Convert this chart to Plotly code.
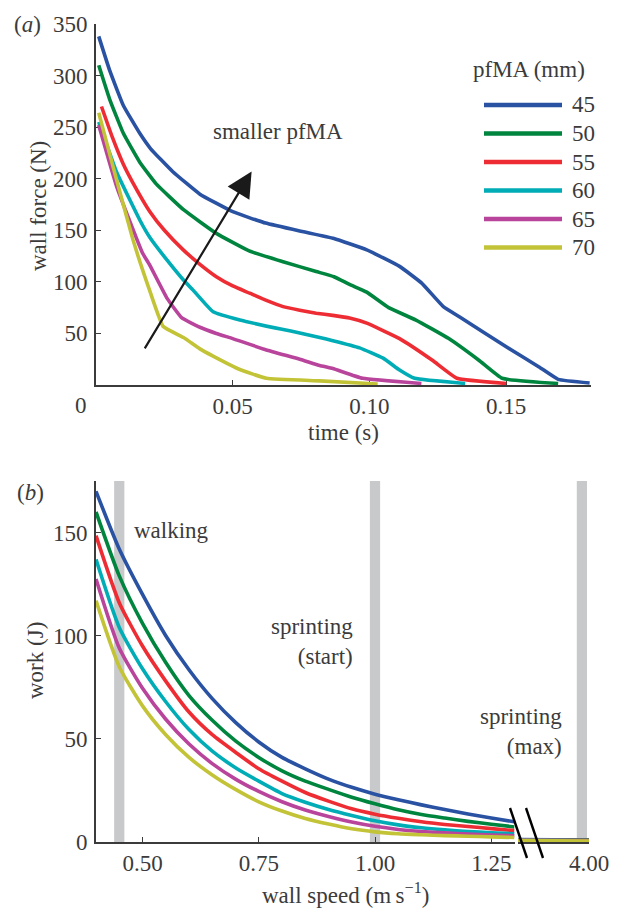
import plotly.graph_objects as go

W, H = 625, 910
OX, OY = 8, 8  # page body margin of the rendered HTML
def px(x):
    return (x - OX) / W
def py(y):
    return 1 - (y - OY) / H

FONT = "Liberation Serif"
TXT = "#3b3b3b"
AX = "#3b3b3b"

pfma_labels = ["45", "50", "55", "60", "65", "70"]
colors = ["#2a52a2", "#00853f", "#ee2c33", "#00adb6", "#b9449b", "#c3c338"]

# ---- panel (a): wall force vs time ----
time_45 = [0.001, 0.005, 0.010, 0.016, 0.020, 0.028, 0.038, 0.050, 0.062, 0.075, 0.087, 0.099, 0.111, 0.119, 0.127, 0.133, 0.150, 0.162, 0.169, 0.1805]
force_45 = [338, 305, 271, 244, 229, 207, 185, 168, 157, 149, 142, 131, 115, 99, 76, 66, 37, 17.5, 5.5, 2]

time_50 = [0.001, 0.005, 0.010, 0.016, 0.022, 0.032, 0.044, 0.056, 0.0684, 0.0805, 0.087, 0.0927, 0.099, 0.107, 0.117, 0.129, 0.140, 0.1485, 0.169]
force_50 = [310, 277, 244, 216, 195, 170, 147, 130, 119.5, 110, 105, 97.5, 90, 75, 63, 45, 24, 6.5, 1.5]

time_55 = [0.002, 0.006, 0.010, 0.0135, 0.0197, 0.025, 0.0319, 0.038, 0.044, 0.050, 0.0562, 0.0623, 0.0684, 0.0745, 0.0805, 0.0866, 0.0927, 0.099, 0.111, 0.123, 0.132, 0.150]
force_55 = [270, 240, 214, 196, 168, 150, 131, 117, 105, 96, 89, 82, 76, 72.5, 69.6, 67.5, 65, 60, 45, 24, 6.5, 1.5]

time_60 = [0.001, 0.0076, 0.016, 0.0197, 0.026, 0.0319, 0.0355, 0.0428, 0.0526, 0.068, 0.0745, 0.0818, 0.0866, 0.0964, 0.105, 0.111, 0.1165, 0.135]
force_60 = [255, 206, 160, 143, 121, 102, 92, 71, 63, 54, 50.5, 46, 43, 36, 26, 14.5, 6.5, 1.5]

time_65 = [0.001, 0.0076, 0.017, 0.0197, 0.026, 0.0314, 0.038, 0.044, 0.050, 0.0623, 0.0745, 0.0818, 0.0866, 0.0975, 0.119]
force_65 = [252, 192, 128, 116, 84, 65, 56, 50, 45, 34, 25, 19, 16, 6.5, 1.5]

time_70 = [0.001, 0.0062, 0.0135, 0.0197, 0.0245, 0.032, 0.038, 0.0428, 0.0526, 0.0623, 0.0818, 0.103]
force_70 = [264, 212, 141, 91, 57, 46, 35, 28, 15, 6.5, 4, 1]

times = [time_45, time_50, time_55, time_60, time_65, time_70]
forces = [force_45, force_50, force_55, force_60, force_65, force_70]

# ---- panel (b): work vs wall speed ----
speed = [0.40, 0.45, 0.50, 0.55, 0.60, 0.65, 0.70, 0.75, 0.80, 0.85, 0.90, 0.95, 1.00, 1.05, 1.10, 1.15, 1.20, 1.25, 1.30]
work_45 = [170, 142, 120, 100, 83.5, 69.5, 58, 48.5, 41, 35.5, 30.5, 26.5, 23.2, 20.5, 18, 15.8, 13.6, 11.6, 9.8]
work_50 = [160, 129, 106, 87, 71, 59, 49, 41, 34.5, 29.5, 25.5, 21.7, 18.5, 15.6, 13.3, 11.6, 10.0, 8.6, 7.3]
work_55 = [148.5, 116, 95, 78, 63, 52, 43.5, 35.5, 29.5, 24, 19.8, 16.1, 13.5, 11.5, 9.8, 8.5, 7.5, 6.5, 5.5]
work_60 = [137, 104, 84, 68, 54.5, 44, 36, 29.5, 23.5, 19.3, 15.8, 12.9, 10.3, 8.3, 6.9, 5.9, 5.1, 4.5, 4.0]
work_65 = [127.5, 94, 74.5, 59.5, 47.5, 38, 30.5, 24.5, 19.5, 15.5, 12.4, 9.7, 7.6, 6.1, 5.1, 4.4, 3.8, 3.4, 3.0]
work_70 = [117, 85, 66, 52, 41, 32.5, 25.5, 19.5, 15.0, 11.4, 8.7, 6.4, 4.9, 4.0, 3.5, 3.1, 2.8, 2.5, 2.2]
works = [work_45, work_50, work_55, work_60, work_65, work_70]

speed_max = [3.75, 4.00]
work_max_45 = [1.2, 1.0]
work_max_50 = [1.1, 0.9]
work_max_55 = [1.0, 0.8]
work_max_60 = [0.9, 0.7]
work_max_65 = [0.8, 0.6]
work_max_70 = [0.7, 0.5]
works_max = [work_max_45, work_max_50, work_max_55, work_max_60, work_max_65, work_max_70]

walking_speed = 0.45
sprint_start_speed = 1.00
sprint_max_speed = 3.975

fig = go.Figure()
LW = 3.6
for i in range(6):
    fig.add_trace(go.Scatter(x=times[i], y=forces[i], mode="lines", name=pfma_labels[i],
                             line=dict(color=colors[i], width=LW, shape="spline", smoothing=0.35),
                             xaxis="x", yaxis="y", showlegend=False))
for i in range(6):
    fig.add_trace(go.Scatter(x=speed, y=works[i], mode="lines", name=pfma_labels[i],
                             line=dict(color=colors[i], width=LW, shape="spline", smoothing=0.6),
                             xaxis="x2", yaxis="y2", showlegend=False))
for i in range(6):
    fig.add_trace(go.Scatter(x=speed_max, y=works_max[i], mode="lines", name=pfma_labels[i],
                             line=dict(color=colors[i], width=LW), xaxis="x3", yaxis="y2",
                             showlegend=False))

axis_common = dict(showline=True, linecolor=AX, linewidth=1.6, ticks="inside", ticklen=5,
                   tickwidth=1.2, tickcolor=AX, showgrid=False, zeroline=False,
                   tickfont=dict(family=FONT, size=23, color=TXT), layer="below traces",
                   fixedrange=True, automargin=False)

fig.update_layout(
    template="none",
    width=W, height=H, margin=dict(l=0, r=0, t=0, b=0, pad=0), autosize=False,
    showlegend=False,
    paper_bgcolor="white", plot_bgcolor="white",
    font=dict(family=FONT, size=23, color=TXT),
    xaxis=dict(axis_common, domain=[px(96), px(591)], anchor="y", range=[0, 0.181],
               tickvals=[0.05, 0.10, 0.15], ticktext=["0.05", "0.10", "0.15"],
               ticklabelstandoff=0),
    yaxis=dict(axis_common, domain=[py(385), py(24)], anchor="x", range=[0, 350],
               tickvals=[50, 100, 150, 200, 250, 300, 350], ticklabelstandoff=2),
    xaxis2=dict(axis_common, domain=[px(96), px(514.5)], anchor="y2", range=[0.4, 1.3],
                tickvals=[0.5, 0.75, 1.0, 1.25], ticktext=["0.50", "0.75", "1.00", "1.25"],
                ticklabelstandoff=0),
    xaxis3=dict(axis_common, domain=[px(518), px(589)], anchor="y2", range=[3.75, 4.0],
                tickvals=[4.0], ticktext=["4.00"], ticklabelstandoff=0),
    yaxis2=dict(axis_common, domain=[py(842), py(481)], anchor="x2", range=[0, 175],
                tickvals=[0, 50, 100, 150], ticklabelstandoff=2),
)

shapes = []
bar_half = 0.011
for xv, xr in [(walking_speed, "x2"), (sprint_start_speed, "x2")]:
    shapes.append(dict(type="rect", xref=xr, yref="y2", x0=xv - bar_half, x1=xv + bar_half,
                       y0=0, y1=175, fillcolor="#c8c9cb", line=dict(width=0), layer="below"))
shapes.append(dict(type="rect", xref="x3", yref="y2", x0=sprint_max_speed - 0.018,
                   x1=sprint_max_speed + 0.018, y0=0, y1=175, fillcolor="#c8c9cb",
                   line=dict(width=0), layer="below"))
# axis break marks
for x0 in (510, 526):
    shapes.append(dict(type="line", xref="paper", yref="paper", x0=px(x0), y0=py(808),
                       x1=px(x0 + 17), y1=py(858), line=dict(color="black", width=2.4)))
# legend keys
for i in range(6):
    yrow = 105 + 28.5 * i
    shapes.append(dict(type="line", xref="paper", yref="paper", x0=px(484), x1=px(562),
                       y0=py(yrow), y1=py(yrow), line=dict(color=colors[i], width=4.5)))
fig.update_layout(shapes=shapes)

ann = []
def txt(text, x, y, xref="paper", yref="paper", xanchor="center", yanchor="middle", align="center", angle=0, size=23):
    ann.append(dict(text=text, x=x, y=y, xref=xref, yref=yref, xanchor=xanchor, yanchor=yanchor,
                    align=align, textangle=angle, showarrow=False,
                    font=dict(family=FONT, size=size, color=TXT)))

txt("(<i>a</i>)", px(27), py(24))
txt("(<i>b</i>)", px(30), py(492))
txt("0", px(81), py(405))
txt("time (s)", px(343), py(432))
txt("wall force (N)", px(38), py(206), angle=-90)
txt("work (J)", px(35), py(661), angle=-90)
txt("wall speed (m\u2009s<sup>\u22121</sup>)", px(345), py(893))
txt("smaller pfMA", 0.0666, 246, xref="x", yref="y")
txt("pfMA (mm)", px(529), py(70))
for i in range(6):
    txt(pfma_labels[i], px(570), py(105 + 28.5 * i), xanchor="left")
txt("walking", 0.478, 151, xref="x2", yref="y2", xanchor="left")
txt("sprinting<br>(start)", 0.958, 97, xref="x2", yref="y2", xanchor="right", align="right")
txt("sprinting<br>(max)", px(564), 53.5, xref="paper", yref="y2", xanchor="right", align="right")

ann.append(dict(x=0.0569, y=207, ax=0.0175, ay=34, xref="x", yref="y", axref="x", ayref="y",
                text="", showarrow=True, arrowhead=2, arrowsize=2.3, arrowwidth=2.2,
                arrowcolor="#1a1a1a"))
fig.update_layout(annotations=ann)

fig.write_html("out.html")
